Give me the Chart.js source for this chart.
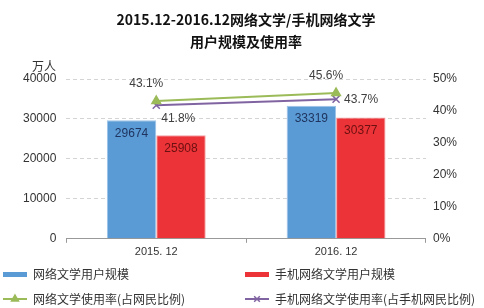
<!DOCTYPE html>
<html><head><meta charset="utf-8">
<script src="https://cdn.jsdelivr.net/npm/chart.js@4/dist/chart.umd.min.js"></script>
<style>html,body{margin:0;padding:0;background:#fff}#wrap{width:484px;height:308px;position:relative}</style>
</head><body><div id="wrap"><canvas id="c" width="484" height="308"></canvas></div>
<script>
const titleLines = ['2015.12-2016.12网络文学/手机网络文学', '用户规模及使用率'];
const categories = ['2015. 12', '2016. 12'];
const seriesNames = ['网络文学用户规模', '手机网络文学用户规模', '网络文学使用率(占网民比例)', '手机网络文学使用率(占手机网民比例)'];
const webLitUsers = [29674, 33319];
const mobileLitUsers = [25908, 30377];
const webLitRate = [43.1, 45.6];
const mobileLitRate = [41.8, 43.7];
const leftUnit = '万人';

const FONT = '"Liberation Sans", "Noto Sans CJK SC", sans-serif';
const CJK = '"Noto Sans CJK SC", "Liberation Sans", sans-serif';
const colors = ['#5b9bd5', '#ec3338', '#9bbb59', '#8064a2'];

const labelPlugin = {
  id: 'labels',
  afterDatasetsDraw(chart) {
    const ctx = chart.ctx;
    ctx.save();
    ctx.font = '12px ' + FONT;
    ctx.textAlign = 'center';
    ctx.textBaseline = 'middle';
    chart.data.datasets.forEach((ds, i) => {
      const meta = chart.getDatasetMeta(i);
      meta.data.forEach((el, j) => {
        const v = ds.data[j];
        if (i === 0) { ctx.fillStyle = '#1f3560'; ctx.fillText(String(v), el.x, el.y + 13); }
        else if (i === 1) { ctx.fillStyle = '#6b1010'; ctx.fillText(String(v), el.x, el.y + 13); }
        else if (i === 2) { ctx.fillStyle = '#404040'; ctx.fillText(v.toFixed(1) + '%', el.x - 10, el.y - 17); }
        else { ctx.fillStyle = '#404040'; ctx.fillText(v.toFixed(1) + '%', el.x + (j === 0 ? 22 : 25), el.y + (j === 0 ? 13 : 1)); }
      });
    });
    ctx.restore();
  },
  afterDraw(chart) {
    const ctx = chart.ctx;
    const ca = chart.chartArea;
    ctx.save();
    ctx.fillStyle = '#111';
    ctx.textAlign = 'center';
    ctx.textBaseline = 'middle';
    ctx.font = 'bold 14px ' + CJK;
    ctx.fillText(titleLines[0], 246, 20);
    ctx.fillText(titleLines[1], 246, 42);
    ctx.font = '12px ' + CJK;
    ctx.fillStyle = '#333';
    ctx.textAlign = 'left';
    ctx.fillText(leftUnit, 32, ca.top - 13);
    const pos = [[3, 274], [245, 274], [3, 299], [245, 299]];
    chart.data.datasets.forEach((ds, i) => {
      const [x, y] = pos[i];
      ctx.strokeStyle = ds.borderColor;
      ctx.fillStyle = ds.backgroundColor;
      if (ds.type === 'bar') {
        ctx.fillRect(x, y - 2, 24, 5);
      } else {
        ctx.lineWidth = 2;
        ctx.beginPath(); ctx.moveTo(x, y); ctx.lineTo(x + 24, y); ctx.stroke();
        ctx.lineWidth = 1.5;
        Chart.helpers.drawPoint(ctx, { pointStyle: ds.pointStyle, radius: 4, borderWidth: 1.5, rotation: 0 }, x + 12, y);
      }
      ctx.fillStyle = '#333';
      ctx.textAlign = 'left';
      ctx.font = '12px ' + CJK;
      ctx.fillText(seriesNames[i], x + 30, y);
    });
    ctx.restore();
  }
};

new Chart(document.getElementById('c'), {
  data: {
    labels: categories,
    datasets: [
      { type: 'bar', label: seriesNames[0], data: webLitUsers, backgroundColor: colors[0], borderColor: '#9cc3e8', borderWidth: 1, yAxisID: 'y', order: 2 },
      { type: 'bar', label: seriesNames[1], data: mobileLitUsers, backgroundColor: colors[1], borderColor: '#f3a0a2', borderWidth: 1, yAxisID: 'y', order: 2 },
      { type: 'line', label: seriesNames[2], data: webLitRate, borderColor: colors[2], backgroundColor: colors[2], borderWidth: 2, pointStyle: 'triangle', pointRadius: 5, pointBorderWidth: 1.5, yAxisID: 'y1', order: 1 },
      { type: 'line', label: seriesNames[3], data: mobileLitRate, borderColor: colors[3], backgroundColor: colors[3], borderWidth: 2, pointStyle: 'crossRot', pointRadius: 5, pointBorderWidth: 1.5, yAxisID: 'y1', order: 1 }
    ]
  },
  options: {
    responsive: false,
    animation: false,
    layout: { padding: { top: 79, bottom: 46, left: 13, right: 20 } },
    plugins: { legend: { display: false }, title: { display: false }, tooltip: { enabled: false } },
    datasets: { bar: { barPercentage: 1, categoryPercentage: 0.55 } },
    scales: {
      x: {
        grid: { display: true, drawOnChartArea: false, drawTicks: true, tickLength: 4, color: '#999', offset: true },
        border: { display: true, color: '#999' },
        ticks: { color: '#333', font: { family: FONT, size: 11 }, padding: 3 }
      },
      y: {
        position: 'left', min: 0, max: 40000,
        ticks: { stepSize: 10000, color: '#333', font: { family: FONT, size: 12 }, padding: 10, callback: (v) => String(v) },
        grid: { color: (c) => c.tick && c.tick.value === 0 ? 'rgba(0,0,0,0)' : '#d4d4d4', drawTicks: false },
        border: { display: false, dash: [4, 3] }
      },
      y1: {
        position: 'right', min: 0, max: 50,
        ticks: { stepSize: 10, color: '#333', font: { family: FONT, size: 12 }, padding: 7, callback: (v) => v + '%' },
        grid: { display: false, drawTicks: false },
        border: { display: false }
      }
    }
  },
  plugins: [labelPlugin]
});
</script></body></html>
